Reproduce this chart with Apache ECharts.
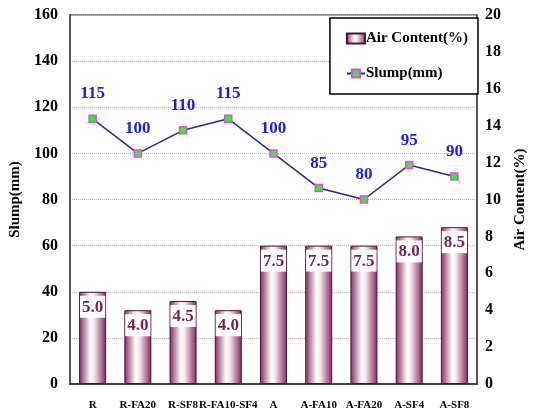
<!DOCTYPE html>
<html>
<head>
<meta charset="utf-8">
<script src="https://cdn.jsdelivr.net/npm/echarts@6/dist/echarts.min.js"></script>
<style>
  html, body { margin: 0; padding: 0; background: #fff; }
  #main { width: 536px; height: 413px; }
</style>
</head>
<body>
<div id="main"></div>
<script>
// mixes
var categories = ['R', 'R-FA20', 'R-SF8', 'R-FA10-SF4', 'A', 'A-FA10', 'A-FA20', 'A-SF4', 'A-SF8'];
var airContent = [5.0, 4.0, 4.5, 4.0, 7.5, 7.5, 7.5, 8.0, 8.5];
var slump = [115, 100, 110, 115, 100, 85, 80, 95, 90];

var serif = '"Liberation Serif", "Times New Roman", serif';

var myChart = echarts.init(document.getElementById('main'));

var barGradient = new echarts.graphic.LinearGradient(0, 0, 1, 0, [
    { offset: 0, color: '#86285a' },
    { offset: 0.42, color: '#ffffff' },
    { offset: 0.55, color: '#f6eaf0' },
    { offset: 1, color: '#86285a' }
]);

var option = {
    backgroundColor: '#fff',
    animation: false,
    grid: {
        left: 70,
        right: 54,
        top: 15,
        bottom: 29,
        show: true,
        borderColor: '#222',
        borderWidth: 1
    },
    legend: {
        orient: 'vertical',
        right: 58,
        top: 18,
        width: 147,
        padding: [13, 10, 13, 16],
        itemGap: 20,
        itemWidth: 18,
        itemHeight: 10,
        borderColor: '#000',
        borderWidth: 1.5,
        backgroundColor: '#fff',
        textStyle: {
            fontFamily: serif,
            fontWeight: 'bold',
            fontSize: 15,
            color: '#000',
            padding: [0, 0, 0, -4]
        },
        data: [
            { name: 'Air Content(%)', icon: 'rect' },
            { name: 'Slump(mm)' }
        ]
    },
    xAxis: {
        type: 'category',
        data: categories,
        axisLine: { lineStyle: { color: '#444', width: 2 } },
        axisTick: { show: false },
        axisLabel: {
            interval: 0,
            fontFamily: serif,
            fontWeight: 'bold',
            fontSize: 11,
            color: '#000',
            margin: 16
        }
    },
    yAxis: [
        {
            type: 'value',
            name: 'Slump(mm)',
            nameLocation: 'middle',
            nameGap: 45,
            nameTextStyle: { fontFamily: serif, fontWeight: 'bold', fontSize: 15, color: '#000' },
            min: 0,
            max: 160,
            interval: 20,
            axisLine: { show: true, lineStyle: { color: '#555', width: 2 } },
            axisTick: { show: false },
            axisLabel: { fontFamily: serif, fontWeight: 'bold', fontSize: 16, color: '#000', margin: 12 },
            splitLine: { lineStyle: { color: '#bbb', type: 'dotted' } }
        },
        {
            type: 'value',
            name: 'Air Content(%)',
            nameLocation: 'middle',
            nameGap: 36,
            nameRotate: 90,
            nameTextStyle: { fontFamily: serif, fontWeight: 'bold', fontSize: 15, color: '#000' },
            min: 0,
            max: 20,
            interval: 2,
            axisLine: { show: true, lineStyle: { color: '#555', width: 2 } },
            axisTick: { show: false },
            axisLabel: { fontFamily: serif, fontWeight: 'bold', fontSize: 16, color: '#000', margin: 8 },
            splitLine: { show: false }
        }
    ],
    series: [
        {
            name: 'Air Content(%)',
            type: 'bar',
            yAxisIndex: 1,
            data: airContent,
            barWidth: 27,
            itemStyle: {
                color: barGradient,
                borderColor: '#4a1630',
                borderWidth: 1
            },
            label: {
                show: true,
                position: 'insideTop',
                distance: 4,
                formatter: function (p) { return p.value.toFixed(1); },
                backgroundColor: '#fff',
                padding: [3, 2, 2, 2],
                fontFamily: serif,
                fontWeight: 'bold',
                fontSize: 17,
                color: '#7a1f4f'
            }
        },
        {
            name: 'Slump(mm)',
            type: 'line',
            yAxisIndex: 0,
            data: slump,
            symbol: 'rect',
            symbolSize: 7,
            itemStyle: { color: '#33ee33', borderColor: '#ee44ee', borderWidth: 1.5 },
            lineStyle: { color: '#2a2a8a', width: 1.5 },
            label: {
                show: true,
                position: 'top',
                distance: 12,
                fontFamily: serif,
                fontWeight: 'bold',
                fontSize: 17,
                color: '#1a1aee'
            }
        }
    ]
};

myChart.setOption(option);
</script>
</body>
</html>
